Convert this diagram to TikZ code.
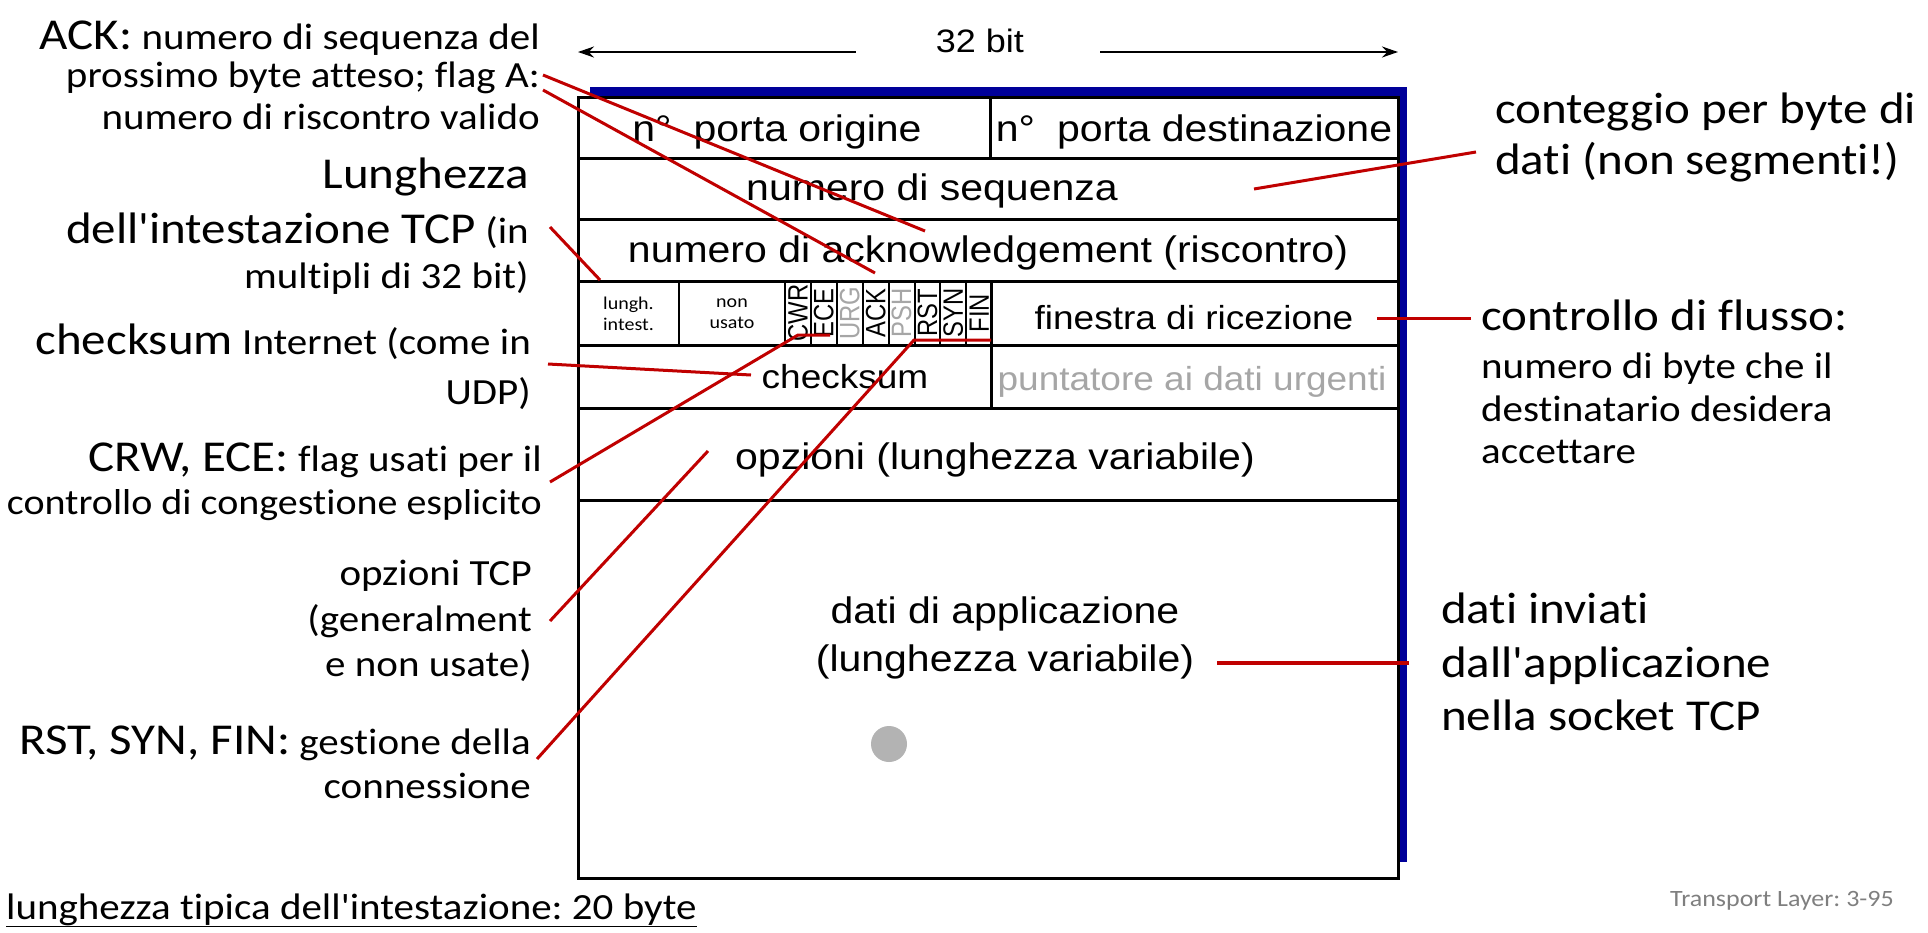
\documentclass[tikz,border=0pt]{standalone}
\usepackage{fontspec}
\usepackage{graphicx}
\setmainfont{Carlito}[Ligatures={TeX,NoCommon}]
\newfontfamily\arialf{Liberation Sans}
\usetikzlibrary{arrows.meta}
\frenchspacing
\newcommand\bigsz{\fontsize{49}{55}\selectfont}
\newcommand\smsz{\fontsize{41}{45}\selectfont}
\definecolor{calloutred}{RGB}{192,0,0}
\definecolor{shadowblue}{RGB}{0,0,153}
\definecolor{dimgray}{RGB}{166,166,166}
\definecolor{dotgray}{RGB}{179,179,179}
\definecolor{footgray}{RGB}{127,127,127}
\tikzset{
  squash/.style={yscale=0.9},
  fld/.style={font=\arialf\fontsize{41}{53}\selectfont, inner sep=0pt, squash},
  fldsm/.style={font=\arialf\fontsize{37}{42}\selectfont, inner sep=0pt, squash},
  cellsm/.style={font=\fontsize{20}{23}\selectfont, align=center, inner sep=0pt, squash},
  flagtxt/.style={font=\arialf\fontsize{28}{28}\selectfont, rotate=90, inner sep=0pt},
  lbl/.style={anchor=base east, inner sep=0pt, font=\smsz, squash},
  rlbl/.style={anchor=base west, inner sep=0pt, font=\bigsz, squash},
  callout/.style={draw=calloutred, line width=3pt},
  rowline/.style={line width=3pt},
  flagline/.style={line width=2pt},
  dimarrow/.style={line width=2pt, -{Stealth[length=16pt,width=11pt]}},
}
\begin{document}
\frenchspacing
\begin{tikzpicture}[x=1pt,y=-1pt]
\useasboundingbox (0,0) rectangle (1928,932);

% header frame with its blue shadow
\fill[shadowblue] (590,87) rectangle (1407,862);
\draw[rowline, fill=white] (578,97) rectangle (1398,878);

% rows of 32-bit words
\foreach \yy in {158.5,219,281.5,345,408,500}
  \draw[rowline] (578,\yy) -- (1398,\yy);
\draw[rowline] (990,97) -- (990,158.5);
\draw[rowline] (991,281.5) -- (991,408);
\draw[flagline] (679,281.5) -- (679,345);
\foreach \i in {0,...,7}
  \draw[flagline] ({785+25.9*\i},281.5) -- ({785+25.9*\i},345);

% width marker
\node[font=\arialf\fontsize{36}{36}\selectfont, inner sep=0pt, squash] (width) at (980,41) {32 bit};
\coordinate (wl) at (578,52);
\coordinate (wr) at (1398,52);
\draw[dimarrow] ([xshift=-80pt,yshift=-11pt]width.west) -- (wl);
\draw[dimarrow] ([xshift=76pt,yshift=-11pt]width.east) -- (wr);

% header fields
\node[fld, anchor=base] (srcport) at (777,141) {n°\hspace{22pt}porta origine};
\node[fld, anchor=base] (dstport) at (1194,141) {n°\hspace{22pt}porta destinazione};
\node[fld, anchor=base] (seq) at (932,200) {numero di sequenza};
\node[fld, anchor=base] (ack) at (988,262) {numero di acknowledgement (riscontro)};
\node[cellsm] (hlen) at (628.5,314) {lungh.\\intest.};
\node[cellsm] (unused) at (732,314) {non\\usato};
\node[flagtxt] (fcwr) at (797.95,313) {\scalebox{0.85}[1]{CWR}};
\node[flagtxt] (fece) at (823.85,313) {\scalebox{0.85}[1]{ECE}};
\node[flagtxt, text=dimgray] (furg) at (849.75,313) {\scalebox{0.85}[1]{URG}};
\node[flagtxt] (fack) at (875.65,313) {\scalebox{0.85}[1]{ACK}};
\node[flagtxt, text=dimgray] (fpsh) at (901.55,313) {\scalebox{0.85}[1]{PSH}};
\node[flagtxt] (frst) at (927.45,313) {\scalebox{0.85}[1]{RST}};
\node[flagtxt] (fsyn) at (953.35,313) {\scalebox{0.85}[1]{SYN}};
\node[flagtxt] (ffin) at (979.25,313) {\scalebox{0.85}[1]{FIN}};
\node[fldsm] (rwnd) at (1194,318) {finestra di ricezione};
\node[fldsm] (csum) at (845,377) {checksum};
\node[fldsm, text=dimgray] (urgptr) at (1192,382) {puntatore ai dati urgenti};
\node[fld] (opts) at (995,460) {opzioni (lunghezza variabile)};
\node[fld, align=center] (appdata) at (1005,638) {dati di applicazione\\(lunghezza variabile)};
\node[circle, fill=dotgray, minimum size=36pt, inner sep=0pt] (pointer) at (889,744) {};

% annotations on the left
\node[lbl] (ackA) at (540,49) {{\bigsz ACK:} numero di sequenza del};
\node[lbl] (ackB) at (540,87) {prossimo byte atteso; flag A:};
\node[lbl] (ackC) at (540,129) {numero di riscontro valido};
\node[lbl, font=\bigsz] (hl1) at (529,188) {Lunghezza};
\node[lbl] (hl2) at (529,243) {{\bigsz dell\textquotesingle intestazione TCP} (in};
\node[lbl] (hl3) at (529,288) {multipli di 32 bit)};
\node[lbl] (ck1) at (531,354) {{\bigsz checksum} Internet (come in};
\node[lbl] (ck2) at (531,404) {UDP)};
\node[lbl] (ce1) at (542,471) {{\bigsz CRW, ECE:} flag usati per il};
\node[lbl, font=\fontsize{40}{45}\selectfont] (ce2) at (542,514) {controllo di congestione esplicito};
\node[lbl] (op1) at (532,585) {opzioni TCP};
\node[lbl] (op2) at (532,631) {(generalment};
\node[lbl] (op3) at (532,676) {e non usate)};
\node[lbl] (rs1) at (531,754) {{\bigsz RST, SYN, FIN:} gestione della};
\node[lbl] (rs2) at (531,798) {connessione};

% annotations on the right
\node[rlbl] (sq1) at (1495,123) {conteggio per byte di};
\node[rlbl] (sq2) at (1495,174) {dati (non segmenti!)};
\node[rlbl] (fc1) at (1481,330) {controllo di flusso:};
\node[rlbl, font=\smsz] (fc2) at (1481,378) {numero di byte che il};
\node[rlbl, font=\smsz] (fc3) at (1481,421) {destinatario desidera};
\node[rlbl, font=\smsz] (fc4) at (1481,463) {accettare};
\node[rlbl] (ad1) at (1441,623) {dati inviati};
\node[rlbl] (ad2) at (1441,677) {dall\textquotesingle applicazione};
\node[rlbl] (ad3) at (1441,730) {nella socket TCP};

% footer
\node[anchor=base west, inner sep=0pt, font=\smsz, squash] (typical) at (6,919) {\underline{lunghezza tipica dell\textquotesingle intestazione: 20 byte}};
\node[anchor=base east, inner sep=0pt, font=\fontsize{26}{26}\selectfont, text=footgray, squash] (slide) at (1894,906) {Transport Layer: 3-95};

% callout targets
\coordinate (eAckA) at (925,231);
\coordinate (eAckB) at (875,273);
\coordinate (eHlen) at (600,280);
\coordinate (eChk) at (751,375);
\coordinate (kCwr) at (798,335);
\coordinate (eCwr) at (830,335);
\coordinate (eOpt) at (708,451);
\coordinate (kRst) at (914,340);
\coordinate (eRst) at (991,340);
\coordinate (eSeq) at (1254,189);
\coordinate (eWin) at (1377,318);
\coordinate (eData) at (1217,663);

% callouts
\draw[callout] ([xshift=3pt,yshift=12pt]ackB.base east) -- (eAckA);
\draw[callout] ([xshift=3pt,yshift=-3pt]ackB.base east) -- (eAckB);
\draw[callout] ([xshift=21pt,yshift=16pt]hl2.base east) -- (eHlen);
\draw[callout] ([xshift=17pt,yshift=-10pt]ck1.base east) -- (eChk);
\draw[callout] ([xshift=8pt,yshift=-11pt]ce1.base east) -- (kCwr) -- (eCwr);
\draw[callout] ([xshift=18pt,yshift=10pt]op2.base east) -- (eOpt);
\draw[callout] ([xshift=6pt,yshift=-5pt]rs1.base east) -- (kRst) -- (eRst);
\draw[callout] ([xshift=-19pt,yshift=22pt]sq2.base west) -- (eSeq);
\draw[callout] ([xshift=-10pt,yshift=12pt]fc1.base west) -- (eWin);
\draw[callout, line width=4.5pt] ([xshift=-32pt,yshift=14pt]ad2.base west) -- (eData);
\end{tikzpicture}
\end{document}
